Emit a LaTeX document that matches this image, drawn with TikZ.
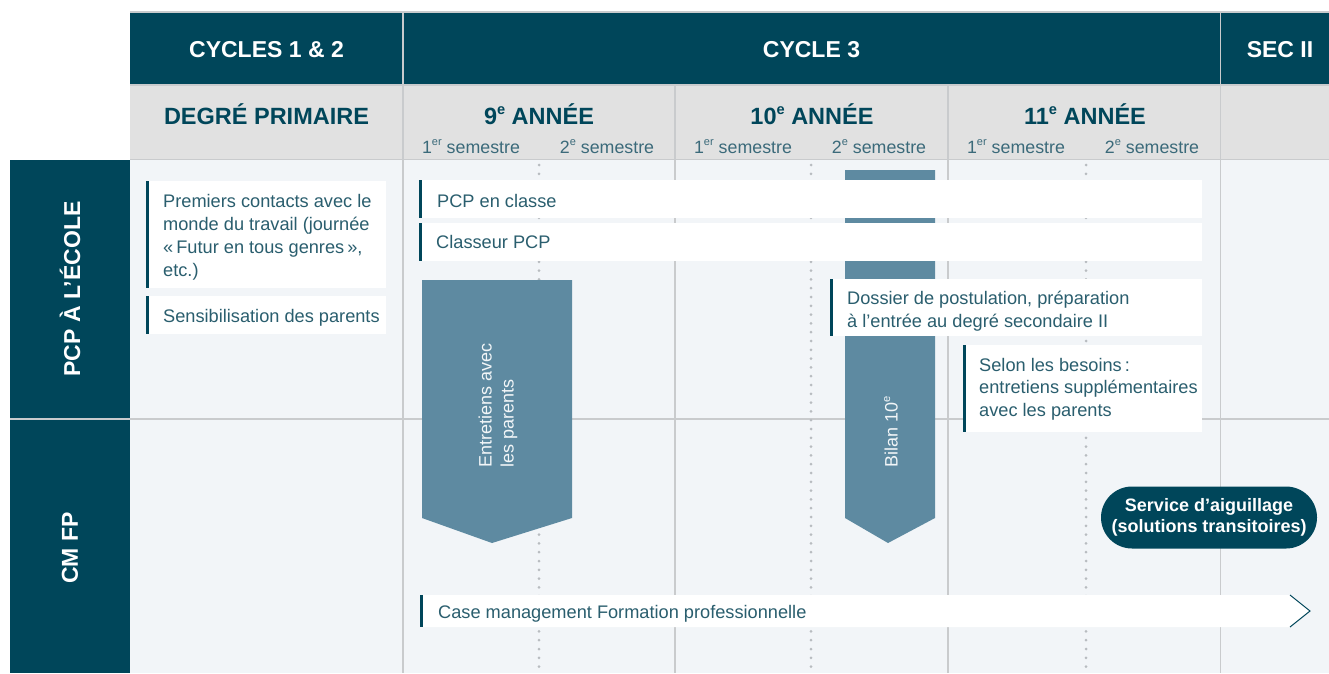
\documentclass[tikz,border=0pt]{standalone}
\usepackage{fontspec}
\setmainfont{Liberation Sans}
\usetikzlibrary{calc}
\definecolor{dark}{HTML}{00465A}
\definecolor{hdrgrey}{HTML}{E1E1E1}
\definecolor{bodybg}{HTML}{F2F5F8}
\definecolor{gridc}{HTML}{C9CBCD}
\definecolor{midblue}{HTML}{5E8AA1}
\definecolor{txt}{HTML}{2A5E6E}
\definecolor{semtxt}{HTML}{3B6A7A}
\definecolor{dotc}{HTML}{B8BCC0}
\newcommand{\supx}[1]{\raisebox{0.42em}{\scalebox{0.62}{#1}}}
\tikzset{
  gridline/.style={draw=gridc, line width=1.2pt},
  dotline/.style={draw=dotc, line width=3pt, line cap=round, dash pattern=on 0pt off 8.8pt},
  hdrtxt/.style={text=white, font=\fontsize{23}{27}\selectfont\bfseries, inner sep=0, anchor=base},
  yeartxt/.style={text=dark, font=\fontsize{23.5}{27}\selectfont\bfseries, inner sep=0, anchor=base},
  semtext/.style={text=semtxt, font=\fontsize{17.8}{20}\selectfont, inner sep=0, anchor=base},
  rowtxt/.style={text=white, font=\fontsize{23}{27}\selectfont\bfseries, inner sep=0, rotate=90},
  wbox/.style={fill=white, draw=none, anchor=north west, inner sep=0},
  leftbar/.style={draw=dark, line width=3pt},
  btxt/.style={text=txt, font=\fontsize{18.2}{23}\selectfont, inner sep=0, anchor=base west, align=left},
  arrowbox/.style={fill=midblue, draw=none},
  rottxt/.style={text=white!92!midblue, font=\fontsize{18}{22}\selectfont, inner sep=0, rotate=90, align=left},
  pill/.style={fill=dark, draw=none, rounded corners=31pt, inner sep=0, minimum width=216, minimum height=62,
    text=white, font=\fontsize{18}{20.5}\selectfont\bfseries, align=center}
}
\begin{document}
\begin{tikzpicture}[x=1pt,y=-1pt]
\useasboundingbox (0,0) rectangle (1329,673);
% backgrounds
\fill[white] (0,0) rectangle (1329,673);
\fill[dark] (130,12) rectangle (1329,85);
\fill[hdrgrey] (130,85) rectangle (1329,159.5);
\fill[bodybg] (130,159.5) rectangle (1329,673);
\fill[dark] (10,160) rectangle (130,418);
\fill[dark] (10,420) rectangle (130,673);
% grid
\draw[gridline] (130,12) -- (1329,12);
\draw[gridline] (403,12) -- (403,673);
\draw[gridline] (1220.5,12) -- (1220.5,673);
\draw[gridline] (675,85) -- (675,673);
\draw[gridline] (948,85) -- (948,673);
\draw[gridline] (130,85) -- (1329,85);
\draw[gridline] (130,159.5) -- (1329,159.5);
\draw[gridline] (10,419) -- (1329,419);
% dotted semester lines
\coordinate (d1t) at (539,165); \coordinate (d1b) at (539,673);
\coordinate (d2t) at (811,165); \coordinate (d2b) at (811,673);
\coordinate (d3t) at (1086,165); \coordinate (d3b) at (1086,673);
\draw[dotline] (d1t) -- (d1b);
\draw[dotline] (d2t) -- (d2b);
\draw[dotline] (d3t) -- (d3b);
% header texts
\node[hdrtxt] (c12) at (266.5,57) {CYCLES 1 \& 2};
\node[hdrtxt] (c3) at (811.5,57) {CYCLE 3};
\node[hdrtxt] (sec) at (1280,57) {SEC II};
\node[yeartxt] (deg) at (266.5,124) {DEGRÉ PRIMAIRE};
\node[yeartxt] (y9) at (539,124) {9\supx{e} ANNÉE};
\node[yeartxt] (y10) at (812,124) {10\supx{e} ANNÉE};
\node[yeartxt] (y11) at (1085,124) {11\supx{e} ANNÉE};
\node[semtext] (s91) at (471,153) {1\supx{er} semestre};
\node[semtext] (s92) at (607,153) {2\supx{e} semestre};
\node[semtext] (s101) at (743,153) {1\supx{er} semestre};
\node[semtext] (s102) at (879,153) {2\supx{e} semestre};
\node[semtext] (s111) at (1016,153) {1\supx{er} semestre};
\node[semtext] (s112) at (1152,153) {2\supx{e} semestre};
% row headers
\node[rowtxt] (r1) at (70,289) {PCP À L’ÉCOLE};
\node[rowtxt] (r2) at (70,548) {CM FP};
% Bilan 10e (behind white boxes)
\path[arrowbox] (845,170) -- (935,170) -- (935,518) -- (888,543) -- (845,518) -- cycle;
\node[rottxt] (bil) at (891,432) {Bilan 10\supx{e}};
% Entretiens avec les parents
\path[arrowbox] (422,280) -- (572,280) -- (572,518) -- (492,543) -- (422,518) -- cycle;
\node[rottxt] (ent) at (498,405) {Entretiens avec\\les parents};
% white boxes (multi-line nodes: base = last line)
\node[wbox, minimum width=240, minimum height=107] (b1) at (146,181) {};
\draw[leftbar] ([xshift=1.5pt]b1.north west) -- ([xshift=1.5pt]b1.south west);
\node[btxt] (t1) at (163,276) {Premiers contacts avec le\\monde du travail (journée\\«\,Futur en tous genres\,»,\\etc.)};
\node[wbox, minimum width=240, minimum height=38] (b2) at (146,296) {};
\draw[leftbar] ([xshift=1.5pt]b2.north west) -- ([xshift=1.5pt]b2.south west);
\node[btxt] (t2) at (163,322) {Sensibilisation des parents};
\node[wbox, minimum width=783, minimum height=38] (b3) at (419,180) {};
\draw[leftbar] ([xshift=1.5pt]b3.north west) -- ([xshift=1.5pt]b3.south west);
\node[btxt] (t3) at (437,207) {PCP en classe};
\node[wbox, minimum width=783, minimum height=38] (b4) at (419,223) {};
\draw[leftbar] ([xshift=1.5pt]b4.north west) -- ([xshift=1.5pt]b4.south west);
\node[btxt] (t4) at (436,248) {Classeur PCP};
\node[wbox, minimum width=372, minimum height=57] (b5) at (830,279) {};
\draw[leftbar] ([xshift=1.5pt]b5.north west) -- ([xshift=1.5pt]b5.south west);
\node[btxt] (t5) at (847,327) {Dossier de postulation, préparation\\à l’entrée au degré secondaire II};
\node[wbox, minimum width=239, minimum height=87] (b6) at (963,345) {};
\draw[leftbar] ([xshift=1.5pt]b6.north west) -- ([xshift=1.5pt]b6.south west);
\node[btxt, font=\fontsize{18.2}{22.5}\selectfont] (t6) at (979,416) {Selon les besoins\,:\\entretiens supplémentaires\\avec les parents};
% service d'aiguillage
\node[pill] (svc) at (1209,517.5) {Service d’aiguillage\\(solutions transitoires)};
% case management
\coordinate (cmA) at (420,595);
\coordinate (cmB) at (1290,595);
\coordinate (cmT) at (1310,611);
\coordinate (cmC) at (1290,627);
\coordinate (cmD) at (420,627);
\fill[white] (cmA) -- (cmB) -- (cmT) -- (cmC) -- (cmD) -- cycle;
\draw[dark, line width=1pt] (cmB) -- (cmT) -- (cmC);
\draw[leftbar] ([xshift=1.5pt]cmA) -- ([xshift=1.5pt]cmD);
\node[btxt] (t7) at (438,618) {Case management Formation professionnelle};
\end{tikzpicture}
\end{document}
